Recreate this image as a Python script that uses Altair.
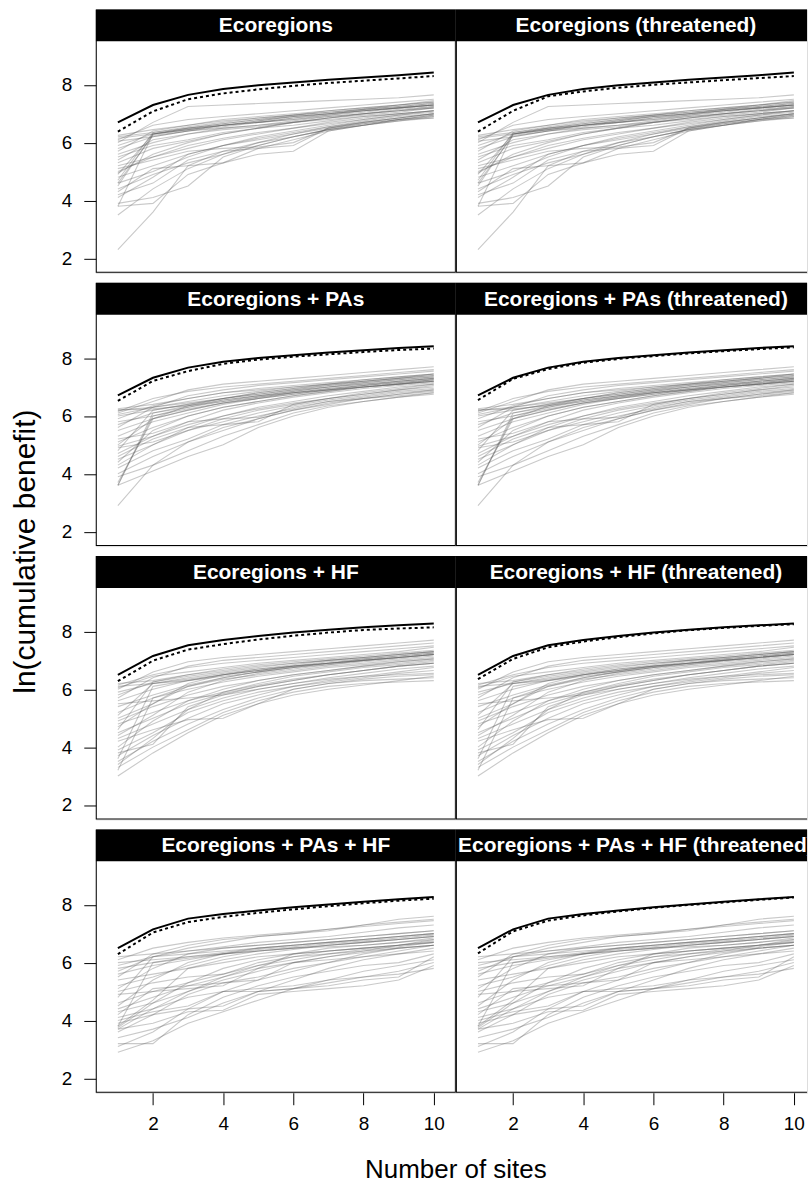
import altair as alt
import pandas as pd

SITES = [1, 2, 3, 4, 5, 6, 7, 8, 9, 10]
ROW_TITLES = ["Ecoregions", "Ecoregions + PAs", "Ecoregions + HF", "Ecoregions + PAs + HF"]
SIDE_SUFFIX = ["", " (threatened)"]
X_TICKS = [2, 4, 6, 8, 10]
Y_TICKS = [2, 4, 6, 8]

GRAY_ECO = [
    [6.25, 6.45, 6.6, 6.75, 6.85, 6.95, 7.05, 7.15, 7.25, 7.35],
    [6.2, 6.35, 6.55, 6.7, 6.85, 6.95, 7.1, 7.2, 7.3, 7.4],
    [6.1, 6.6, 6.8, 6.9, 7.0, 7.1, 7.2, 7.3, 7.4, 7.5],
    [6.0, 6.7, 7.25, 7.3, 7.35, 7.4, 7.45, 7.5, 7.55, 7.65],
    [5.9, 6.3, 6.5, 6.65, 6.8, 6.9, 7.0, 7.1, 7.2, 7.3],
    [5.8, 6.2, 6.4, 6.6, 6.75, 6.9, 7.0, 7.1, 7.2, 7.3],
    [5.6, 6.0, 6.3, 6.5, 6.6, 6.75, 6.9, 7.0, 7.1, 7.2],
    [5.5, 5.9, 6.1, 6.35, 6.5, 6.6, 6.75, 6.9, 7.0, 7.1],
    [5.3, 5.8, 6.05, 6.3, 6.5, 6.7, 6.85, 6.95, 7.05, 7.2],
    [5.2, 5.5, 5.9, 6.15, 6.35, 6.5, 6.7, 6.85, 7.0, 7.1],
    [5.0, 5.5, 5.8, 6.1, 6.3, 6.5, 6.65, 6.8, 6.95, 7.05],
    [4.9, 6.3, 6.45, 6.6, 6.75, 6.9, 7.0, 7.15, 7.25, 7.35],
    [4.7, 6.35, 6.5, 6.65, 6.8, 6.95, 7.05, 7.15, 7.3, 7.4],
    [4.6, 6.25, 6.4, 6.55, 6.7, 6.85, 6.95, 7.1, 7.2, 7.3],
    [4.5, 6.3, 6.45, 6.6, 6.7, 6.8, 6.95, 7.05, 7.2, 7.3],
    [4.8, 5.2, 5.6, 5.9, 6.1, 6.3, 6.5, 6.7, 6.85, 7.0],
    [4.6, 5.0, 5.5, 5.9, 6.15, 6.35, 6.55, 6.7, 6.85, 7.0],
    [4.4, 4.9, 5.3, 5.6, 5.9, 6.2, 6.45, 6.6, 6.8, 6.95],
    [4.3, 5.1, 5.2, 5.3, 5.8, 6.1, 6.4, 6.6, 6.75, 6.9],
    [4.2, 4.6, 5.4, 5.7, 5.8, 5.9, 6.5, 6.7, 6.85, 7.0],
    [4.1, 4.8, 5.6, 5.9, 6.2, 6.4, 6.6, 6.8, 6.95, 7.1],
    [3.9, 4.1, 4.5, 5.5, 5.9, 6.2, 6.45, 6.65, 6.8, 6.95],
    [3.8, 3.9, 4.9, 5.3, 5.6, 5.7, 6.4, 6.6, 6.8, 6.9],
    [3.8, 6.3, 6.5, 6.6, 6.7, 6.85, 7.0, 7.1, 7.2, 7.3],
    [3.5, 4.4, 5.1, 5.6, 6.0, 6.3, 6.55, 6.75, 6.9, 7.0],
    [2.3, 3.6, 5.2, 5.7, 6.0, 6.2, 6.45, 6.6, 6.75, 6.85],
    [6.15, 6.3, 6.45, 6.6, 6.7, 6.8, 6.9, 7.0, 7.1, 7.2],
    [5.7, 6.4, 6.6, 6.8, 6.9, 7.0, 7.1, 7.2, 7.3, 7.45],
    [5.1, 5.4, 5.7, 5.8, 5.85, 6.0, 6.5, 6.65, 6.8, 6.85],
    [4.95, 5.6, 6.0, 6.3, 6.5, 6.7, 6.85, 7.0, 7.1, 7.25],
    [6.05, 6.2, 6.4, 6.5, 6.6, 6.7, 6.8, 6.9, 7.0, 7.1],
    [5.4, 6.1, 6.3, 6.45, 6.55, 6.7, 6.85, 7.0, 7.15, 7.25],
]

GRAY_PA = [
    [6.25, 6.4, 6.6, 6.8, 6.95, 7.05, 7.15, 7.25, 7.35, 7.45],
    [6.2, 6.3, 6.5, 6.7, 6.85, 7.0, 7.1, 7.2, 7.3, 7.4],
    [6.15, 6.6, 6.85, 7.0, 7.1, 7.2, 7.3, 7.4, 7.5, 7.6],
    [6.1, 6.5, 6.9, 7.1, 7.2, 7.3, 7.4, 7.5, 7.6, 7.7],
    [6.0, 6.2, 6.4, 6.6, 6.8, 6.95, 7.05, 7.15, 7.25, 7.35],
    [5.9, 6.35, 6.6, 6.8, 6.9, 7.0, 7.1, 7.25, 7.35, 7.45],
    [5.7, 6.1, 6.35, 6.55, 6.7, 6.85, 7.0, 7.1, 7.2, 7.3],
    [5.5, 5.9, 6.2, 6.45, 6.65, 6.8, 6.95, 7.05, 7.15, 7.25],
    [5.3, 5.8, 6.1, 6.4, 6.6, 6.75, 6.9, 7.0, 7.1, 7.2],
    [5.1, 5.6, 6.0, 6.3, 6.5, 6.7, 6.85, 7.0, 7.1, 7.2],
    [4.95, 5.3, 5.7, 6.0, 6.25, 6.45, 6.6, 6.75, 6.9, 7.0],
    [4.9, 5.1, 5.5, 5.8, 6.1, 6.35, 6.55, 6.7, 6.85, 6.95],
    [4.8, 6.2, 6.4, 6.6, 6.75, 6.9, 7.0, 7.15, 7.25, 7.35],
    [4.7, 5.3, 5.8, 6.2, 6.45, 6.65, 6.8, 6.95, 7.05, 7.15],
    [4.5, 5.0, 5.5, 5.9, 6.2, 6.4, 6.6, 6.75, 6.9, 7.05],
    [4.4, 5.5, 6.0, 6.3, 6.5, 6.7, 6.85, 7.0, 7.1, 7.25],
    [4.2, 4.8, 5.2, 5.7, 6.0, 6.25, 6.5, 6.65, 6.8, 6.9],
    [4.0, 4.6, 5.1, 5.5, 5.9, 6.2, 6.45, 6.6, 6.75, 6.85],
    [3.9, 4.3, 4.8, 5.3, 5.7, 6.1, 6.35, 6.5, 6.65, 6.75],
    [3.6, 6.1, 6.3, 6.5, 6.7, 6.85, 7.0, 7.1, 7.2, 7.3],
    [3.6, 6.0, 6.25, 6.45, 6.6, 6.75, 6.9, 7.05, 7.15, 7.25],
    [3.7, 5.9, 6.2, 6.45, 6.6, 6.8, 6.95, 7.05, 7.2, 7.3],
    [3.6, 4.1, 4.6, 5.0, 5.6, 6.0, 6.3, 6.5, 6.65, 6.8],
    [2.9, 4.3, 5.1, 5.6, 5.9, 6.2, 6.4, 6.6, 6.75, 6.9],
    [6.2, 6.25, 6.35, 6.5, 6.65, 6.8, 6.9, 7.0, 7.1, 7.2],
    [5.6, 6.3, 6.7, 6.9, 7.05, 7.15, 7.25, 7.35, 7.45, 7.55],
    [5.2, 5.4, 5.8, 5.9, 5.95, 6.3, 6.5, 6.6, 6.7, 6.8],
    [4.6, 5.2, 5.6, 5.7, 5.8, 6.4, 6.6, 6.8, 6.95, 7.1],
    [6.05, 6.3, 6.45, 6.6, 6.75, 6.9, 7.05, 7.2, 7.3, 7.4],
    [5.0, 5.9, 6.35, 6.6, 6.8, 6.95, 7.1, 7.2, 7.3, 7.45],
    [4.3, 5.0, 5.6, 6.0, 6.3, 6.5, 6.7, 6.85, 7.0, 7.1],
    [5.8, 6.0, 6.3, 6.55, 6.7, 6.8, 6.9, 7.0, 7.1, 7.2],
]

GRAY_HF = [
    [6.2, 6.3, 6.5, 6.65, 6.8, 6.9, 7.0, 7.1, 7.2, 7.3],
    [6.15, 6.5, 6.75, 6.9, 7.0, 7.1, 7.2, 7.3, 7.4, 7.5],
    [6.0, 6.6, 6.95, 7.1, 7.2, 7.3, 7.4, 7.5, 7.6, 7.7],
    [5.9, 6.2, 6.4, 6.55, 6.7, 6.8, 6.9, 7.0, 7.1, 7.2],
    [5.8, 6.25, 6.5, 6.7, 6.85, 6.95, 7.05, 7.15, 7.25, 7.35],
    [5.6, 6.0, 6.3, 6.5, 6.65, 6.8, 6.9, 7.0, 7.1, 7.2],
    [5.4, 5.8, 6.15, 6.4, 6.6, 6.75, 6.9, 7.0, 7.1, 7.2],
    [5.2, 5.7, 6.0, 6.25, 6.45, 6.6, 6.75, 6.85, 6.95, 7.05],
    [5.1, 6.2, 6.35, 6.5, 6.65, 6.8, 6.9, 7.0, 7.1, 7.2],
    [4.9, 5.4, 5.8, 6.1, 6.3, 6.5, 6.65, 6.8, 6.9, 7.0],
    [4.8, 5.2, 5.6, 5.9, 6.15, 6.35, 6.5, 6.65, 6.8, 6.9],
    [4.6, 6.25, 6.45, 6.6, 6.75, 6.9, 7.0, 7.1, 7.2, 7.3],
    [4.5, 5.0, 5.5, 5.85, 6.1, 6.3, 6.5, 6.65, 6.8, 6.9],
    [4.3, 4.8, 5.3, 5.7, 6.0, 6.2, 6.4, 6.55, 6.7, 6.8],
    [4.2, 4.6, 4.95, 5.0, 5.5, 6.0, 6.2, 6.35, 6.45, 6.5],
    [4.0, 4.9, 5.6, 6.0, 6.3, 6.5, 6.65, 6.8, 6.95, 7.05],
    [3.9, 4.5, 5.2, 5.6, 5.9, 6.1, 6.25, 6.4, 6.55, 6.65],
    [3.7, 4.4, 5.0, 5.5, 5.8, 6.1, 6.3, 6.45, 6.6, 6.75],
    [3.5, 4.2, 4.8, 5.3, 5.7, 6.0, 6.2, 6.3, 6.35, 6.4],
    [3.3, 4.0, 4.6, 5.2, 5.6, 5.9, 6.1, 6.2, 6.25, 6.3],
    [3.0, 3.8, 4.5, 5.1, 5.5, 5.8, 6.0, 6.15, 6.3, 6.45],
    [3.2, 5.7, 6.1, 6.35, 6.5, 6.65, 6.8, 6.9, 7.0, 7.1],
    [3.6, 6.1, 6.3, 6.5, 6.65, 6.8, 6.95, 7.05, 7.15, 7.25],
    [3.8, 4.1, 5.4, 5.8, 6.1, 6.3, 6.5, 6.65, 6.8, 6.9],
    [6.1, 6.2, 6.3, 6.45, 6.6, 6.75, 6.85, 6.95, 7.05, 7.15],
    [5.7, 6.4, 6.8, 7.0, 7.1, 7.2, 7.3, 7.4, 7.5, 7.6],
    [5.0, 5.5, 6.2, 6.5, 6.7, 6.85, 7.0, 7.1, 7.2, 7.3],
    [4.4, 5.1, 5.9, 6.3, 6.55, 6.7, 6.85, 7.0, 7.1, 7.2],
    [5.5, 5.6, 5.7, 5.8, 6.0, 6.2, 6.35, 6.45, 6.5, 6.55],
    [4.7, 5.5, 6.1, 6.4, 6.6, 6.75, 6.9, 7.05, 7.15, 7.25],
    [3.4, 4.3, 5.3, 5.9, 6.2, 6.45, 6.6, 6.75, 6.85, 6.95],
    [6.05, 6.45, 6.6, 6.75, 6.9, 7.0, 7.1, 7.2, 7.3, 7.45],
]

GRAY_PAHF = [
    [6.2, 6.3, 6.4, 6.5, 6.6, 6.7, 6.8, 6.9, 7.0, 7.1],
    [6.1, 6.5, 6.7, 6.85, 6.95, 7.05, 7.15, 7.25, 7.35, 7.45],
    [5.9, 6.2, 6.5, 6.7, 6.9, 7.0, 7.1, 7.3, 7.5, 7.6],
    [5.8, 6.0, 6.15, 6.3, 6.4, 6.5, 6.6, 6.7, 6.8, 6.9],
    [5.6, 5.9, 6.1, 6.3, 6.45, 6.55, 6.65, 6.75, 6.85, 6.95],
    [5.4, 5.6, 5.8, 6.0, 6.2, 6.3, 6.4, 6.5, 6.6, 6.75],
    [5.2, 5.5, 5.9, 6.2, 6.4, 6.5, 6.6, 6.7, 6.8, 6.9],
    [5.0, 5.3, 5.5, 5.6, 6.0, 6.2, 6.3, 6.4, 6.5, 6.6],
    [4.8, 6.2, 6.3, 6.4, 6.5, 6.6, 6.7, 6.8, 6.9, 7.0],
    [4.6, 5.0, 5.3, 5.6, 5.9, 6.1, 6.3, 6.45, 6.55, 6.7],
    [4.4, 4.8, 5.2, 5.5, 5.8, 6.0, 6.2, 6.4, 6.6, 6.8],
    [4.3, 4.6, 5.0, 5.4, 5.7, 6.0, 6.2, 6.35, 6.5, 6.6],
    [4.2, 5.1, 5.2, 5.3, 5.4, 6.0, 6.1, 6.2, 6.3, 6.4],
    [4.1, 4.4, 4.8, 5.0, 5.1, 5.2, 5.4, 5.5, 5.6, 5.8],
    [4.0, 4.3, 4.5, 5.0, 5.0, 5.1, 5.3, 5.5, 5.7, 6.0],
    [3.9, 4.2, 4.4, 4.5, 5.0, 5.1, 5.2, 5.4, 5.5, 6.2],
    [3.8, 6.0, 6.2, 6.35, 6.5, 6.6, 6.7, 6.8, 6.9, 7.0],
    [3.75, 4.6, 5.3, 5.8, 6.1, 6.3, 6.5, 6.6, 6.7, 6.85],
    [3.7, 4.4, 5.0, 5.5, 5.9, 6.2, 6.4, 6.5, 6.6, 6.7],
    [3.7, 3.9, 4.3, 4.35, 4.9, 5.0, 5.1, 5.2, 5.4, 5.9],
    [3.6, 4.2, 4.9, 5.3, 5.5, 5.8, 6.0, 6.3, 6.5, 6.6],
    [3.4, 3.7, 4.1, 4.6, 5.0, 5.4, 5.8, 6.1, 6.3, 6.5],
    [3.2, 3.2, 4.2, 4.8, 5.2, 5.5, 5.7, 5.9, 6.0, 6.3],
    [2.9, 3.3, 3.9, 4.3, 4.7, 5.1, 5.4, 5.7, 5.9, 6.1],
    [3.1, 3.6, 4.4, 5.0, 5.4, 5.7, 6.0, 6.2, 6.4, 6.6],
    [6.0, 6.1, 6.2, 6.3, 6.4, 6.5, 6.55, 6.6, 6.7, 6.8],
    [5.5, 6.3, 6.6, 6.8, 6.9, 7.0, 7.15, 7.3, 7.4, 7.5],
    [5.1, 5.8, 6.3, 6.5, 6.6, 6.7, 6.8, 6.9, 7.0, 7.1],
    [4.5, 5.4, 6.0, 6.3, 6.5, 6.6, 6.7, 6.8, 6.9, 7.0],
    [4.9, 5.0, 5.1, 5.2, 5.8, 6.3, 6.4, 6.5, 6.6, 6.7],
    [3.8, 4.7, 5.8, 6.1, 6.3, 6.45, 6.6, 6.7, 6.8, 6.9],
    [5.7, 6.2, 6.4, 6.55, 6.7, 6.8, 6.9, 7.05, 7.2, 7.3],
]

GRAY_ROWS = [GRAY_ECO, GRAY_PA, GRAY_HF, GRAY_PAHF]

SOLID_ROWS = [
    [6.7, 7.3, 7.65, 7.85, 7.98, 8.08, 8.17, 8.25, 8.33, 8.42],
    [6.71, 7.32, 7.67, 7.87, 8.0, 8.1, 8.19, 8.27, 8.35, 8.41],
    [6.5, 7.15, 7.52, 7.7, 7.84, 7.96, 8.06, 8.14, 8.21, 8.27],
    [6.5, 7.15, 7.52, 7.68, 7.8, 7.91, 8.01, 8.1, 8.19, 8.27],
]
DASHED_ALL = [
    [6.38, 7.08, 7.5, 7.7, 7.84, 7.96, 8.06, 8.14, 8.22, 8.3],
    [6.52, 7.21, 7.55, 7.8, 7.95, 8.05, 8.13, 8.21, 8.28, 8.33],
    [6.28, 6.99, 7.37, 7.56, 7.72, 7.85, 7.96, 8.05, 8.1, 8.14],
    [6.29, 7.04, 7.4, 7.58, 7.72, 7.84, 7.95, 8.05, 8.14, 8.21],
]
DASHED_THR = [
    [6.38, 7.1, 7.6, 7.77, 7.9, 8.0, 8.08, 8.16, 8.23, 8.3],
    [6.55, 7.28, 7.62, 7.84, 7.97, 8.07, 8.16, 8.24, 8.31, 8.37],
    [6.35, 7.05, 7.45, 7.65, 7.8, 7.93, 8.04, 8.12, 8.19, 8.25],
    [6.32, 7.08, 7.45, 7.63, 7.77, 7.89, 7.99, 8.08, 8.17, 8.25],
]

FONT = "Liberation Sans"
LEFT_W, RIGHT_W, PANEL_H, STRIP_H = 361, 352, 264, 32
ROW_GAP = 10
X_LO, X_HI = 0.37, 10.63
Y_LO, Y_HI = 1.5, 9.5
PX_PER_X = LEFT_W / (X_HI - X_LO)
Y_TOP = Y_HI + STRIP_H * (Y_HI - Y_LO) / (PANEL_H - STRIP_H)


def gray_frame(lines):
    recs = []
    for i, ys in enumerate(lines):
        for x, y in zip(SITES, ys):
            recs.append({"id": i, "x": x, "y": y})
    return pd.DataFrame(recs)


def series_frame(ys):
    return pd.DataFrame({"x": SITES, "y": ys})


AXIS_STYLE = dict(
    tickSize=12, tickColor="black", tickWidth=1, domain=False, grid=False,
    labelFont=FONT, labelFontSize=19, labelColor="black",
    titleFont=FONT, titleFontWeight="normal", titleColor="black",
)


def panel(r, side):
    W = LEFT_W if side == 0 else RIGHT_W
    xmax = X_HI if side == 0 else X_LO + RIGHT_W / PX_PER_X
    if r == 3:
        if side == 0:
            xaxis = alt.Axis(values=X_TICKS, title="Number of sites", titleX=LEFT_W - 0.5,
                             titleY=77, titleBaseline="middle", titleAlign="center",
                             titleFontSize=26, labelPadding=10, **AXIS_STYLE)
        else:
            xaxis = alt.Axis(values=X_TICKS, title="", labelPadding=10, **AXIS_STYLE)
    else:
        xaxis = None
    if side == 0:
        if r == 1:
            yaxis = alt.Axis(values=Y_TICKS, title="ln(cumulative benefit)", titleX=-70,
                             titleY=PANEL_H + ROW_GAP / 2, titleBaseline="middle",
                             titleAngle=270, titleFontSize=30, labelPadding=12, **AXIS_STYLE)
        else:
            yaxis = alt.Axis(values=Y_TICKS, title="", labelPadding=12, **AXIS_STYLE)
    else:
        yaxis = None

    X = alt.X("x:Q", scale=alt.Scale(domain=[X_LO, xmax], nice=False, zero=False), axis=xaxis)
    Y = alt.Y("y:Q", scale=alt.Scale(domain=[Y_LO, Y_TOP], nice=False, zero=False), axis=yaxis)

    gray = alt.Chart(gray_frame(GRAY_ROWS[r])).mark_line(
        color="#5a5a5a", opacity=0.33, strokeWidth=1.1, clip=True
    ).encode(x=X, y=Y, detail="id:N")
    solid = alt.Chart(series_frame(SOLID_ROWS[r])).mark_line(
        color="black", strokeWidth=2, clip=True
    ).encode(x=X, y=Y)
    dashed = alt.Chart(series_frame((DASHED_ALL if side == 0 else DASHED_THR)[r])).mark_line(
        color="black", strokeWidth=2, strokeDash=[3, 3], clip=True
    ).encode(x=X, y=Y)

    label_df = pd.DataFrame({"label": [ROW_TITLES[r] + SIDE_SUFFIX[side]]})
    strip = alt.Chart(label_df).mark_rect(color="black", clip=True).encode(
        x=alt.value(0), x2=alt.value(W + 20), y=alt.value(0), y2=alt.value(STRIP_H)
    )
    text = alt.Chart(label_df).mark_text(
        color="white", font=FONT, fontSize=21, fontWeight="bold", clip=True,
        align="center", baseline="middle"
    ).encode(x=alt.value(LEFT_W / 2), y=alt.value(STRIP_H / 2 + 1), text="label:N")
    frame = alt.Chart(label_df).mark_rect(
        filled=False, stroke="black", strokeWidth=2, clip=True
    ).encode(
        x=alt.value(0), x2=alt.value(W + 20 if side == 1 else W),
        y=alt.value(0), y2=alt.value(PANEL_H)
    )
    return alt.layer(gray, solid, dashed, strip, text, frame).properties(width=W, height=PANEL_H)


panels = [panel(r, s) for r in range(4) for s in range(2)]

chart = alt.concat(
    *panels, columns=2, spacing={"row": ROW_GAP, "column": 0}, bounds="flush"
).properties(
    padding={"left": 10, "top": 7, "right": 0, "bottom": 0}
).configure_view(stroke=None).configure(background="white")

chart.save("out.html", embed_options={"renderer": "svg", "actions": False})
